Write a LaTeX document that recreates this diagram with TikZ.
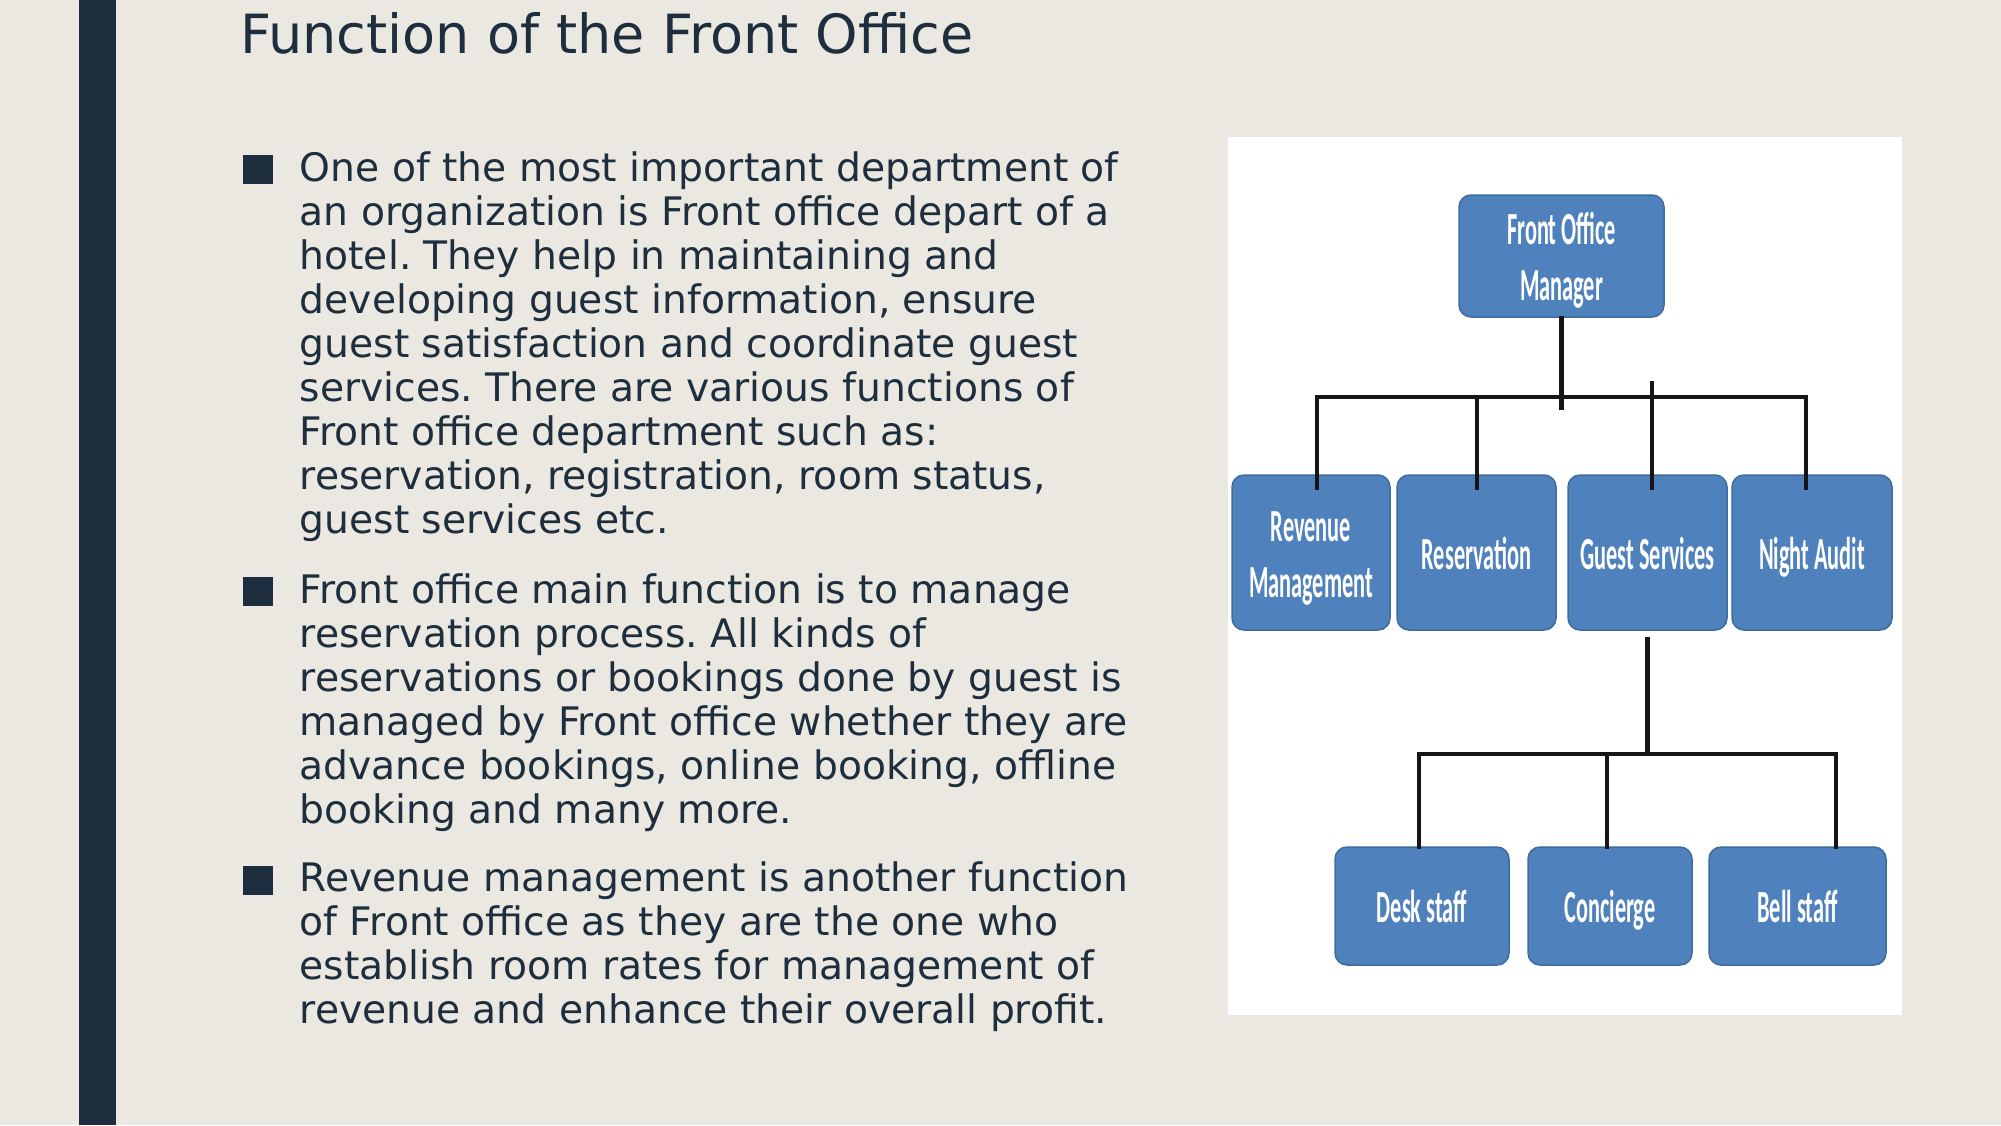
\documentclass[tikz,border=0pt]{standalone}
\usepackage{fontspec}
\usepackage{graphicx}
\setmainfont{DejaVu Sans}
\newfontfamily\boxfont{Carlito}
\frenchspacing
\definecolor{slide}{RGB}{234,232,224}
\definecolor{ink}{RGB}{31,46,62}
\definecolor{boxblue}{RGB}{79,129,189}
\definecolor{boxedge}{RGB}{62,108,158}
\definecolor{wire}{RGB}{22,22,22}
\newcommand\narrow[1]{\vrule height 43pt depth 10pt width 0pt\scalebox{.485}[1]{#1}}
\def\lead{\vrule height 36pt width 0pt}
\tikzset{unit/.style={rectangle,rounded corners=12pt,fill=boxblue,draw=boxedge,
      line width=1.5pt,text=white,align=center,inner sep=0pt,
      font=\boxfont\bfseries\fontsize{46}{56}\selectfont},
    lvl/.style={unit,minimum width=#1,minimum height=155pt},
    low/.style={unit,minimum width=#1,minimum height=118pt},
    link/.style={draw=wire,line width=4.5pt,line cap=rect},
    para/.style={anchor=north west,inner sep=0pt,align=left,text=ink,
      font=\fontsize{39.25}{44}\selectfont},
    square/.style={fill=ink,minimum width=30pt,minimum height=29pt,inner sep=0pt}}

\begin{document}
\begin{tikzpicture}[x=1pt,y=-1pt]
  \useasboundingbox (0,0) rectangle (2001,1125);
  \fill[slide] (0,0) rectangle (2001,1125);
  \fill[ink] (79,0) rectangle (116,1125);
  \node[anchor=base west,inner sep=0pt,text=ink,font=\fontsize{54}{60}\selectfont]
    (title) at (240,53) {Function of the Front Office};

  % bullets
  \node[square] (b1) at (258,169.5) {};
  \node[square] (b2) at (258,591.5) {};
  \node[square] (b3) at (258,880) {};
  \node[para] (p1) at (299.5,145) {\lead One of the most important department of\\
    an organization is Front office depart of a\\
    hotel. They help in maintaining and\\
    developing guest information, ensure\\
    guest satisfaction and coordinate guest\\
    services. There are various functions of\\
    Front office department such as:\\
    reservation, registration, room status,\\
    guest services etc.};
  \node[para] (p2) at (299.5,567) {\lead Front office main function is to manage\\
    reservation process. All kinds of\\
    reservations or bookings done by guest is\\
    managed by Front office whether they are\\
    advance bookings, online booking, offline\\
    booking and many more.};
  \node[para] (p3) at (299.5,855.5) {\lead Revenue management is another function\\
    of Front office as they are the one who\\
    establish room rates for management of\\
    revenue and enhance their overall profit.};

  % org chart
  \fill[white] (1228,137) rectangle (1902,1015);
  \node[unit,minimum width=205pt,minimum height=122pt] (fom) at (1561.5,256)
    {\narrow{Front Office}\\\narrow{Manager}};
  \node[lvl=158pt] (rev) at (1311,552.5) {\narrow{Revenue}\\\narrow{Management}};
  \node[lvl=159pt] (resv) at (1476.5,552.5) {\narrow{Reservation}};
  \node[lvl=159pt] (guest) at (1647.5,552.5) {\narrow{Guest Services}};
  \node[lvl=160pt] (night) at (1812,552.5) {\narrow{Night Audit}};
  \node[low=174pt] (desk) at (1422,906) {\narrow{Desk staff}};
  \node[low=164pt] (conc) at (1610,906) {\narrow{Concierge}};
  \node[low=177pt] (bell) at (1797.5,906) {\narrow{Bell staff}};

  \draw[link] (fom.south) -- ++(0,90);
  \foreach \x/\n in {1317/rev,1477/resv,1652/guest,1806/night}
    \coordinate (up-\n) at (\x,397);
  \draw[link] (up-rev) -- (up-night);
  \foreach \n in {rev,resv,night}
    \draw[link] (up-\n) -- (up-\n |- \n.north) -- ++(0,13);
  \draw[link] ([yshift=14pt]up-guest) -- (up-guest |- guest.north) -- ++(0,13);

  \coordinate (hub) at (1647,754);
  \draw[link] ([yshift=-8pt]guest.south) -- (guest.south |- hub);
  \foreach \x/\n in {1419/desk,1607/conc,1836/bell}
    \coordinate (dn-\n) at (\x,754);
  \draw[link] (dn-desk) -- (dn-bell);
  \foreach \n in {desk,conc,bell}
    \draw[link] (dn-\n) -- (dn-\n |- \n.north);
\end{tikzpicture}
\end{document}
